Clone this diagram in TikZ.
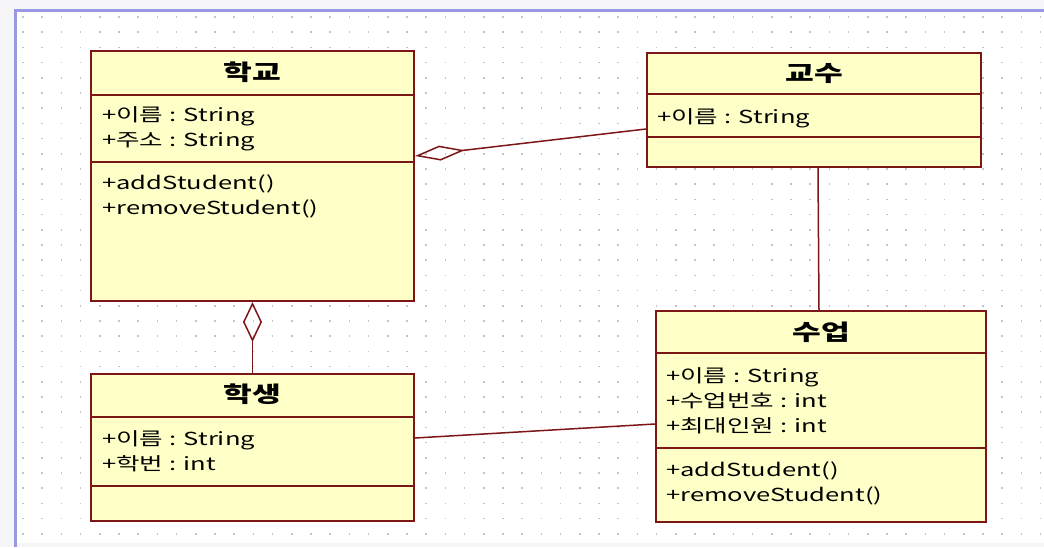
\documentclass[tikz,border=0pt]{standalone}
\usepackage{fontspec}
\setmainfont{Noto Sans CJK KR}[FakeStretch=1.42]
\usetikzlibrary{arrows.meta,calc}
\definecolor{classfill}{RGB}{255,255,200}
\definecolor{classline}{RGB}{125,22,22}
\definecolor{frameline}{RGB}{152,152,228}
\definecolor{griddot}{RGB}{196,196,200}
\definecolor{outside}{RGB}{246,246,248}

\begin{document}
\begin{tikzpicture}[x=1pt,y=-1pt,
  classbox/.style={draw=classline, fill=classfill, line width=2pt, inner sep=0pt, anchor=north west},
  divider/.style={draw=classline, line width=1.7pt},
  title/.style={font=\fontsize{22}{24}\selectfont\bfseries, anchor=base, inner sep=0pt},
  member/.style={font=\fontsize{18}{20}\selectfont, anchor=base west, inner sep=0pt},
  assoc/.style={draw=classline, line width=1.5pt},
]
\useasboundingbox (0,0) rectangle (1044,547);

% canvas, outer strip and frame
\fill[outside] (0,0) rectangle (1044,547);
\fill[white] (15,10) rectangle (1044,543);
\foreach \i in {0,...,53}
  \foreach \j in {0,...,34}
    \fill[griddot] (22.2+19.2*\i, 16.2+15.2*\j) rectangle ++(1.6,1.6);
\draw[frameline, line width=3pt] (15,547) -- (15,10) -- (1044,10);

% class 학교
\node[classbox, minimum width=323pt, minimum height=250pt] (school) at (90,50) {};
\draw[divider] ($(school.north west)+(0,45)$) -- ($(school.north east)+(0,45)$);
\draw[divider] ($(school.north west)+(0,112)$) -- ($(school.north east)+(0,112)$);
\node[title] (schoolname) at ($(school.north)+(0,30)$) {학교};
\node[member] (schoolattr1) at ($(school.north west)+(12,71)$) {+이름 : String};
\node[member] (schoolattr2) at ($(school.north west)+(12,96)$) {+주소 : String};
\node[member] (schoolop1) at ($(school.north west)+(12,139)$) {+addStudent()};
\node[member] (schoolop2) at ($(school.north west)+(12,164)$) {+removeStudent()};

% class 교수
\node[classbox, minimum width=334pt, minimum height=114pt] (prof) at (646,52) {};
\draw[divider] ($(prof.north west)+(0,42)$) -- ($(prof.north east)+(0,42)$);
\draw[divider] ($(prof.north west)+(0,85)$) -- ($(prof.north east)+(0,85)$);
\node[title] (profname) at ($(prof.north)+(0,29)$) {교수};
\node[member] (profattr1) at ($(prof.north west)+(11,71)$) {+이름 : String};

% class 학생
\node[classbox, minimum width=323pt, minimum height=147pt] (student) at (90,373) {};
\draw[divider] ($(student.north west)+(0,44)$) -- ($(student.north east)+(0,44)$);
\draw[divider] ($(student.north west)+(0,113)$) -- ($(student.north east)+(0,113)$);
\node[title] (studentname) at ($(student.north)+(0,29)$) {학생};
\node[member] (studentattr1) at ($(student.north west)+(12,72)$) {+이름 : String};
\node[member] (studentattr2) at ($(student.north west)+(12,97)$) {+학번 : int};

% class 수업
\node[classbox, minimum width=330pt, minimum height=211pt] (lesson) at (655,310) {};
\draw[divider] ($(lesson.north west)+(0,43)$) -- ($(lesson.north east)+(0,43)$);
\draw[divider] ($(lesson.north west)+(0,138)$) -- ($(lesson.north east)+(0,138)$);
\node[title] (lessonname) at ($(lesson.north)+(0,30)$) {수업};
\node[member] (lessonattr1) at ($(lesson.north west)+(11,72)$) {+이름 : String};
\node[member] (lessonattr2) at ($(lesson.north west)+(11,97)$) {+수업번호 : int};
\node[member] (lessonattr3) at ($(lesson.north west)+(11,122)$) {+최대인원 : int};
\node[member] (lessonop1) at ($(lesson.north west)+(11,166)$) {+addStudent()};
\node[member] (lessonop2) at ($(lesson.north west)+(11,191)$) {+removeStudent()};

% relationships: two aggregations from 학교, two plain associations
\draw[assoc, {Diamond[open, length=50pt, width=15pt]}-]
  ($(school.north east)+(0,106)$) -- ($(prof.north west)+(0,77)$);
\draw[assoc, {Diamond[open, length=40pt, width=19pt]}-]
  (school.south) -- (student.north);
\draw[assoc] ($(prof.south)+(4,0)$) -- ($(lesson.north)+(-2,0)$);
\draw[assoc] ($(student.north east)+(0,65)$) -- ($(lesson.north west)+(0,114)$);
\end{tikzpicture}
\end{document}
